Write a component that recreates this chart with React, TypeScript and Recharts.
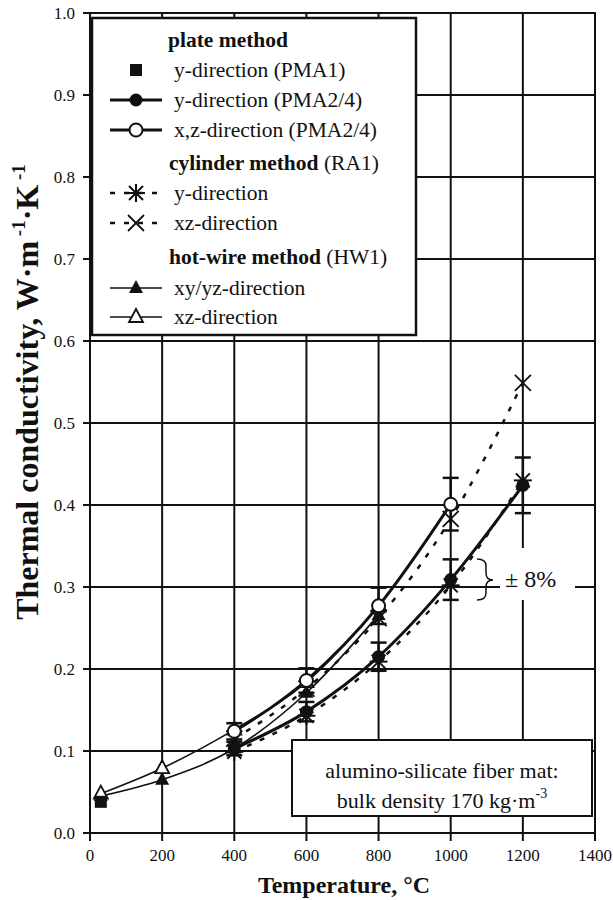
import React from 'react';
import { LineChart, Line, XAxis, YAxis, CartesianGrid, ErrorBar } from 'recharts';

// temperatures (°C)
const plateTemps = [30];
const pmaYTemps = [400, 600, 800, 1000, 1200];
const pmaXZTemps = [400, 600, 800, 1000];
const cylTemps = [400, 600, 800, 1000, 1200];
const hwTemps = [30, 200, 400, 600, 800];

// thermal conductivity (W/mK)
const plateY = [0.038];
const pmaY = [0.103, 0.148, 0.215, 0.309, 0.424];
const pmaXZ = [0.124, 0.186, 0.277, 0.401];
const cylY = [0.099, 0.143, 0.209, 0.302, 0.43];
const cylXZ = [0.115, 0.176, 0.262, 0.383, 0.549];
const hwXY = [0.045, 0.065, 0.103, 0.171, 0.266];
const hwXZ = [0.048, 0.079, 0.126, 0.184, 0.276];

const errPct = 0.08;
const xTicks = [0, 200, 400, 600, 800, 1000, 1200, 1400];
const yTicks = [0, 0.1, 0.2, 0.3, 0.4, 0.5, 0.6, 0.7, 0.8, 0.9, 1.0];

const toRows = (ts: number[], vs: number[], withErr = false) =>
  ts.map((t, i) => (withErr ? { t, k: vs[i], err: vs[i] * errPct } : { t, k: vs[i] }));

const INK = '#111';
const FONT = '"Liberation Serif", "Times New Roman", serif';

type Kind = 'square' | 'dot' | 'ring' | 'star' | 'cross' | 'tri' | 'otri';

function marker(kind: Kind, cx: number, cy: number, key?: string) {
  switch (kind) {
    case 'square':
      return <rect key={key} x={cx - 6} y={cy - 6} width={12} height={12} fill={INK} />;
    case 'dot':
      return <circle key={key} cx={cx} cy={cy} r={6.5} fill={INK} />;
    case 'ring':
      return <circle key={key} cx={cx} cy={cy} r={6.5} fill="#fff" stroke={INK} strokeWidth={2} />;
    case 'star':
      return (
        <g key={key} stroke={INK} strokeWidth={2}>
          <line x1={cx} y1={cy - 9} x2={cx} y2={cy + 9} />
          <line x1={cx - 9} y1={cy} x2={cx + 9} y2={cy} />
          <line x1={cx - 7} y1={cy - 7} x2={cx + 7} y2={cy + 7} />
          <line x1={cx - 7} y1={cy + 7} x2={cx + 7} y2={cy - 7} />
        </g>
      );
    case 'cross':
      return (
        <g key={key} stroke={INK} strokeWidth={1.8}>
          <line x1={cx - 8} y1={cy - 8} x2={cx + 8} y2={cy + 8} />
          <line x1={cx - 8} y1={cy + 8} x2={cx + 8} y2={cy - 8} />
        </g>
      );
    case 'tri':
      return <polygon key={key} points={`${cx},${cy - 8} ${cx + 7},${cy + 5} ${cx - 7},${cy + 5}`} fill={INK} />;
    case 'otri':
      return (
        <polygon key={key} points={`${cx},${cy - 8} ${cx + 7},${cy + 5} ${cx - 7},${cy + 5}`}
          fill="#fff" stroke={INK} strokeWidth={1.8} />
      );
  }
}

const dotOf = (kind: Kind) => (p: any) => {
  if (p.cx == null || p.cy == null) return <g key={`${kind}-${p.index}`} />;
  return marker(kind, p.cx, p.cy, `${kind}-${p.index}`);
};

function LegendRow({ y, kind, line, text }: { y: number; kind: Kind; line?: 'thick' | 'dash' | 'thin'; text: string }) {
  return (
    <g>
      {line === 'thick' && <line x1={110} y1={y} x2={162} y2={y} stroke={INK} strokeWidth={3} />}
      {line === 'thin' && <line x1={110} y1={y} x2={162} y2={y} stroke={INK} strokeWidth={1.6} />}
      {line === 'dash' && (
        <line x1={110} y1={y} x2={162} y2={y} stroke={INK} strokeWidth={2.5} strokeDasharray="5 9" />
      )}
      {marker(kind, 136, y)}
      <text x={174} y={y + 7} fontSize={21.5}>{text}</text>
    </g>
  );
}

export default function App() {
  return (
    <div style={{ position: 'absolute', left: 0, top: 0, width: 613, height: 900, background: '#fff', fontFamily: FONT }}>
      <LineChart width={613} height={900} margin={{ top: 13, right: 18, bottom: 0, left: 0 }}>
        <CartesianGrid stroke={INK} strokeWidth={2} strokeOpacity={1} />
        <XAxis
          dataKey="t"
          type="number"
          domain={[0, 1400]}
          ticks={xTicks}
          height={67}
          tickSize={8}
          tickMargin={8}
          stroke={INK}
          strokeWidth={2}
          tick={{ fill: INK, fontSize: 17, fontFamily: FONT }}
          allowDuplicatedCategory={false}
        />
        <YAxis
          type="number"
          domain={[0, 1]}
          ticks={yTicks}
          width={90}
          tickSize={7}
          tickMargin={8}
          stroke={INK}
          strokeWidth={2}
          tickFormatter={(v: number) => v.toFixed(1)}
          tick={{ fill: INK, fontSize: 17, fontFamily: FONT }}
        />
        <Line data={toRows(hwTemps, hwXY)} dataKey="k" type="monotone" stroke={INK} strokeWidth={1.6}
          dot={dotOf('tri')} activeDot={false} isAnimationActive={false} />
        <Line data={toRows(cylTemps, cylY)} dataKey="k" type="monotone" stroke={INK} strokeWidth={2.5}
          strokeDasharray="5 9" dot={dotOf('star')} activeDot={false} isAnimationActive={false} />
        <Line data={toRows(cylTemps, cylXZ)} dataKey="k" type="monotone" stroke={INK} strokeWidth={2.5}
          strokeDasharray="5 9" dot={dotOf('cross')} activeDot={false} isAnimationActive={false} />
        <Line data={toRows(pmaYTemps, pmaY, true)} dataKey="k" type="monotone" stroke={INK} strokeWidth={3}
          dot={dotOf('dot')} activeDot={false} isAnimationActive={false}>
          <ErrorBar dataKey="err" direction="y" width={8} stroke={INK} strokeWidth={2.5} />
        </Line>
        <Line data={toRows(hwTemps, hwXZ)} dataKey="k" type="monotone" stroke={INK} strokeWidth={1.6}
          dot={dotOf('otri')} activeDot={false} isAnimationActive={false} />
        <Line data={toRows(pmaXZTemps, pmaXZ, true)} dataKey="k" type="monotone" stroke={INK} strokeWidth={3}
          dot={dotOf('ring')} activeDot={false} isAnimationActive={false}>
          <ErrorBar dataKey="err" direction="y" width={8} stroke={INK} strokeWidth={2.5} />
        </Line>
        <Line data={toRows(plateTemps, plateY)} dataKey="k" stroke="none" dot={dotOf('square')}
          activeDot={false} isAnimationActive={false} />
      </LineChart>

      <svg width={613} height={900} style={{ position: 'absolute', left: 0, top: 0, pointerEvents: 'none' }}
        fontFamily={FONT} fill={INK}>
        {/* plot frame */}
        <rect x={90} y={13} width={505} height={820} fill="none" stroke={INK} strokeWidth={2} />

        {/* legend box */}
        <rect x={92} y={18} width={324} height={317} fill="#fff" stroke={INK} strokeWidth={2.5} />
        <text x={168} y={47} fontSize={21.5} fontWeight="bold">plate method</text>
        <LegendRow y={70} kind="square" text="y-direction (PMA1)" />
        <LegendRow y={100} kind="dot" line="thick" text="y-direction (PMA2/4)" />
        <LegendRow y={130} kind="ring" line="thick" text="x,z-direction (PMA2/4)" />
        <text x={169} y={170} fontSize={21.5}>
          <tspan fontWeight="bold">cylinder method</tspan> (RA1)
        </text>
        <LegendRow y={193} kind="star" line="dash" text="y-direction" />
        <LegendRow y={223} kind="cross" line="dash" text="xz-direction" />
        <text x={169} y={264} fontSize={21.5}>
          <tspan fontWeight="bold">hot-wire method</tspan> (HW1)
        </text>
        <LegendRow y={288} kind="tri" line="thin" text="xy/yz-direction" />
        <LegendRow y={317} kind="otri" line="thin" text="xz-direction" />

        {/* ±8% note */}
        <rect x={500} y={548} width={75} height={52} fill="#fff" />
        <path d="M 477 559 Q 486 559 486 566 L 486 573 Q 486 580 493 580 Q 486 580 486 587 L 486 593 Q 486 600 477 600"
          fill="none" stroke={INK} strokeWidth={1.5} />
        <text x={505} y={587} fontSize={24} fontFamily={FONT}>± 8%</text>

        {/* material box */}
        <rect x={292} y={740} width={300} height={76} fill="#fff" stroke={INK} strokeWidth={2} />
        <text x={442} y={778} fontSize={22} textAnchor="middle">alumino-silicate fiber mat:</text>
        <text x={442} y={808} fontSize={22} textAnchor="middle">
          bulk density 170 kg·m<tspan dy={-10} fontSize={14}>-3</tspan>
        </text>

        {/* axis titles */}
        <text x={344} y={893} fontSize={24} fontWeight="bold" textAnchor="middle">Temperature, °C</text>
        <text transform="translate(38, 392) rotate(-90)" fontSize={32} fontWeight="bold" textAnchor="middle">
          Thermal conductivity, W·m<tspan dy={-13} fontSize={19}> -1</tspan>
          <tspan dy={13}>·K</tspan>
          <tspan dy={-13} fontSize={19}> -1</tspan>
        </text>
      </svg>
    </div>
  );
}
